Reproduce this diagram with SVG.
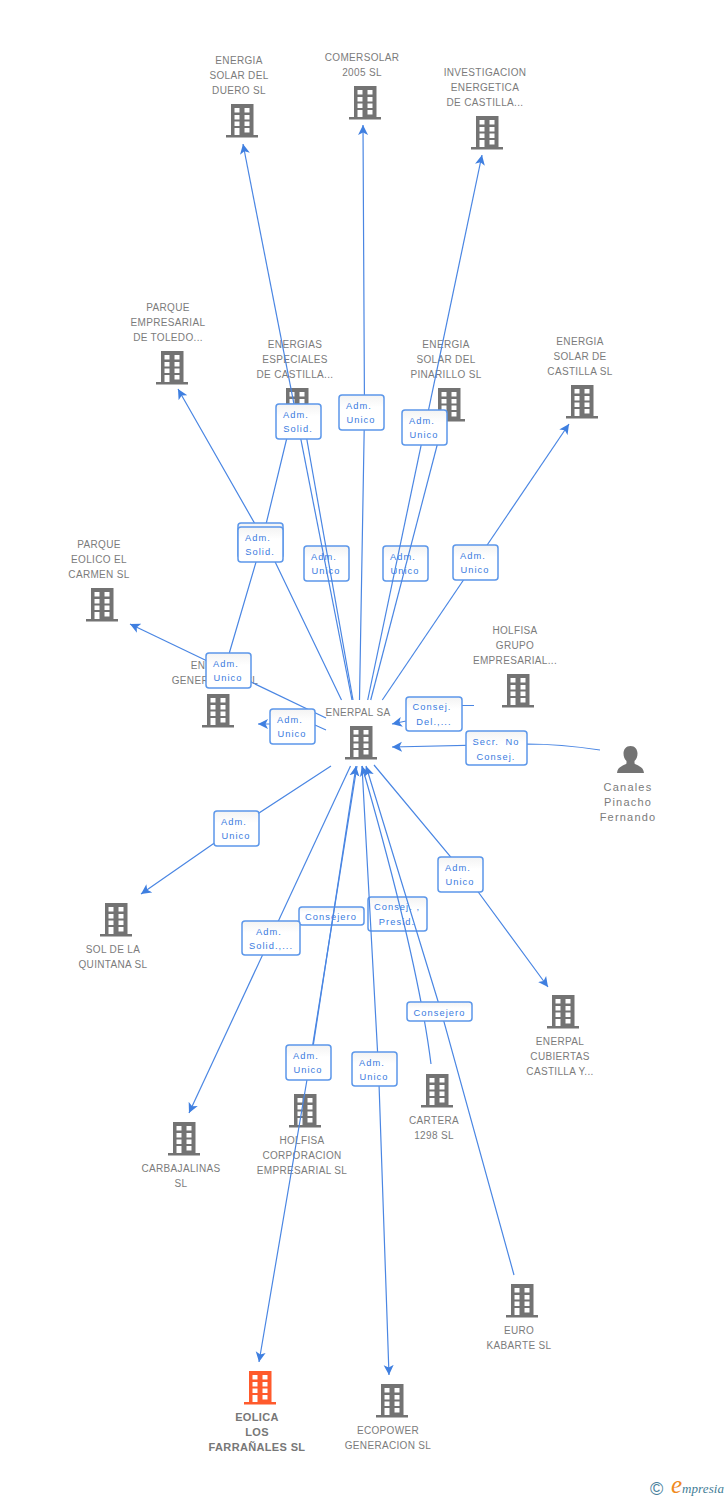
<svg xmlns="http://www.w3.org/2000/svg" width="728" height="1500" viewBox="0 0 728 1500">
<style>
text{font-family:"Liberation Sans",Arial,sans-serif}
.n{font-size:10px;fill:#7b7b7b;text-anchor:middle;letter-spacing:.33px}
.b{font-weight:bold;font-size:11px;fill:#777;letter-spacing:.35px}
.h{font-size:11px;letter-spacing:1.2px}
.i{fill:#737373}
.c path{fill:none;stroke:#4a86e3;stroke-width:1.2;marker-end:url(#a)}
.c path.p{marker-end:none}
.l rect{fill:url(#g);stroke:#5c97ea;stroke-width:1.5}
.l text{font-size:9.300px;fill:#3a7be0;text-anchor:middle;letter-spacing:1.05px}
</style>
<defs>
<linearGradient id="g" x1="0" y1="0" x2="0" y2="1"><stop offset="0" stop-color="#f3f3f3"/><stop offset=".35" stop-color="#fff"/><stop offset="1" stop-color="#fff"/></linearGradient>
<marker id="a" markerUnits="userSpaceOnUse" markerWidth="14" markerHeight="12" refX="10" refY="6" orient="auto"><path d="M0,1 L10,6 L0,11 L2.500,6 Z" fill="#3f7fe0"/></marker>
<symbol id="bld" width="32" height="34" viewBox="0 0 32 34" overflow="visible">
<path fill-rule="evenodd" d="M5,0H27.500V31H32V33.500H0V31H5Z M8.500,4V8.500H13.500V4Z M18.500,4V8.500H23.500V4Z M8.500,11V15.500H13.500V11Z M18.500,11V15.500H23.500V11Z M8.500,17.500V22H13.500V17.500Z M18.500,17.500V22H23.500V17.500Z M8.500,24V31H13.500V24Z M18.500,24V28.500H23.500V24Z"/>
</symbol>
</defs>
<rect width="728" height="1500" fill="#fff"/>

<g id="nodes">
<g id="n-duero"><use href="#bld" x="226" y="104" class="i"/><text class="n"><tspan x="239" y="64">ENERGIA</tspan><tspan x="239" y="79">SOLAR DEL</tspan><tspan x="239" y="94">DUERO SL</tspan></text></g>
<g id="n-comersolar"><use href="#bld" x="349" y="86" class="i"/><text class="n"><tspan x="362" y="61">COMERSOLAR</tspan><tspan x="362" y="76">2005 SL</tspan></text></g>
<g id="n-investigacion"><use href="#bld" x="471" y="116" class="i"/><text class="n"><tspan x="485" y="76">INVESTIGACION</tspan><tspan x="485" y="91">ENERGETICA</tspan><tspan x="485" y="106">DE CASTILLA...</tspan></text></g>
<g id="n-toledo"><use href="#bld" x="156" y="351" class="i"/><text class="n"><tspan x="168" y="311">PARQUE</tspan><tspan x="168" y="326">EMPRESARIAL</tspan><tspan x="168" y="341">DE TOLEDO...</tspan></text></g>
<g id="n-especiales"><use href="#bld" x="281" y="388" class="i"/><text class="n"><tspan x="295" y="348">ENERGIAS</tspan><tspan x="295" y="363">ESPECIALES</tspan><tspan x="295" y="378">DE CASTILLA...</tspan></text></g>
<g id="n-pinarillo"><use href="#bld" x="433" y="388" class="i"/><text class="n"><tspan x="446" y="348">ENERGIA</tspan><tspan x="446" y="363">SOLAR DEL</tspan><tspan x="446" y="378">PINARILLO SL</tspan></text></g>
<g id="n-castilla"><use href="#bld" x="566" y="385" class="i"/><text class="n"><tspan x="580" y="345">ENERGIA</tspan><tspan x="580" y="360">SOLAR DE</tspan><tspan x="580" y="375">CASTILLA SL</tspan></text></g>
<g id="n-carmen"><use href="#bld" x="86" y="588" class="i"/><text class="n"><tspan x="99" y="548">PARQUE</tspan><tspan x="99" y="563">EOLICO EL</tspan><tspan x="99" y="578">CARMEN SL</tspan></text></g>
<g id="n-holfisa-grupo"><use href="#bld" x="502" y="674" class="i"/><text class="n"><tspan x="515" y="634">HOLFISA</tspan><tspan x="515" y="649">GRUPO</tspan><tspan x="515" y="664">EMPRESARIAL...</tspan></text></g>
<g id="n-enerpal-gen"><use href="#bld" x="202" y="694" class="i"/><text class="n"><tspan x="215" y="669">ENERPAL</tspan><tspan x="215" y="684">GENERACION SL</tspan></text></g>
<g id="n-enerpal"><use href="#bld" x="345" y="726" class="i"/><text class="n"><tspan x="358" y="716">ENERPAL SA</tspan></text></g>
<g id="n-canales"><path class="i" d="M630.500,746c-4.500,0-7,3.500-7,7.500c0,3,1,5.500,3,7.500v2.500c-2,2-9,2.500-9.500,9.500h27c-.5-7-7.500-7.500-9.500-9.500V761c2-2,3-4.500,3-7.500c0-4-2.500-7.500-7-7.500Z"/><text class="n h"><tspan x="628" y="791">Canales</tspan><tspan x="628" y="806">Pinacho</tspan><tspan x="628" y="821">Fernando</tspan></text></g>
<g id="n-quintana"><use href="#bld" x="100" y="903" class="i"/><text class="n"><tspan x="113" y="953">SOL DE LA</tspan><tspan x="113" y="968">QUINTANA SL</tspan></text></g>
<g id="n-cubiertas"><use href="#bld" x="547" y="995" class="i"/><text class="n"><tspan x="560" y="1045">ENERPAL</tspan><tspan x="560" y="1060">CUBIERTAS</tspan><tspan x="560" y="1075">CASTILLA Y...</tspan></text></g>
<g id="n-cartera"><use href="#bld" x="421" y="1074" class="i"/><text class="n"><tspan x="434" y="1124">CARTERA</tspan><tspan x="434" y="1139">1298 SL</tspan></text></g>
<g id="n-holfisa-corp"><use href="#bld" x="289" y="1094" class="i"/><text class="n"><tspan x="302" y="1144">HOLFISA</tspan><tspan x="302" y="1159">CORPORACION</tspan><tspan x="302" y="1174">EMPRESARIAL SL</tspan></text></g>
<g id="n-carbajalinas"><use href="#bld" x="168" y="1122" class="i"/><text class="n"><tspan x="181" y="1172">CARBAJALINAS</tspan><tspan x="181" y="1187">SL</tspan></text></g>
<g id="n-kabarte"><use href="#bld" x="506" y="1284" class="i"/><text class="n"><tspan x="519" y="1334">EURO</tspan><tspan x="519" y="1349">KABARTE SL</tspan></text></g>
<g id="n-eolica"><use href="#bld" x="244" y="1371" fill="#ff5a2c"/><text class="n b"><tspan x="257" y="1421">EOLICA</tspan><tspan x="257" y="1436">LOS</tspan><tspan x="257" y="1451">FARRAÑALES SL</tspan></text></g>
<g id="n-ecopower"><use href="#bld" x="376" y="1384" class="i"/><text class="n"><tspan x="388" y="1434">ECOPOWER</tspan><tspan x="388" y="1449">GENERACION SL</tspan></text></g>
</g>

<g class="l" id="labels-under">
<g transform="translate(304,546)"><rect width="45" height="35" rx="3"/><text><tspan x="20" y="14">Adm.</tspan><tspan x="22" y="28">Unico</tspan></text></g>
<g transform="translate(383,546)"><rect width="45" height="35" rx="3"/><text><tspan x="20" y="14">Adm.</tspan><tspan x="22" y="28">Unico</tspan></text></g>
<g transform="translate(299,907)"><rect width="65" height="18" rx="3"/><text><tspan x="32" y="13">Consejero</tspan></text></g>
<g transform="translate(368,897)"><rect width="59" height="34" rx="3"/><text><tspan x="29" y="13">Consej. ,</tspan><tspan x="29" y="28">Presid.</tspan></text></g>
</g>

<g id="connectors" class="c">
<path d="M352,700L243,144"/>
<path class="p" d="M353,700L302,412"/>
<path d="M359.500,700L364.500,412L363,125"/>
<path d="M367.700,700L482,155"/>
<path class="p" d="M370.700,700L445,415"/>
<path d="M382.300,700L569,424"/>
<path d="M341.500,700L267,545L178,389"/>
<path class="p" d="M229.300,653L261,545L290,425"/>
<path d="M326,718L130,624"/>
<path d="M326,730L315,725L270,724L258,724"/>
<path d="M474,705.500L462,705.500L406,721L392,724"/>
<path d="M600,750Q560,744 527,744L392,747"/>
<path d="M331,766L236,828L141,894"/>
<path d="M374,765L465,874L548,987"/>
<path d="M350.500,766L189,1113"/>
<path d="M357,766L310,1062L259,1362"/>
<path d="M311,1060L356,766"/>
<path d="M362,766L378.500,1069L389,1375"/>
<path d="M431,1064Q418,960 362,766"/>
<path d="M514,1275L441,1011L366,766"/>
</g>

<g class="l" id="labels-over">
<g transform="translate(276,404)"><rect width="45" height="35" rx="3"/><text><tspan x="20" y="14">Adm.</tspan><tspan x="22" y="28">Solid.</tspan></text></g>
<g transform="translate(339,395)"><rect width="45" height="35" rx="3"/><text><tspan x="20" y="14">Adm.</tspan><tspan x="22" y="28">Unico</tspan></text></g>
<g transform="translate(402,410)"><rect width="45" height="35" rx="3"/><text><tspan x="20" y="14">Adm.</tspan><tspan x="22" y="28">Unico</tspan></text></g>
<g transform="translate(238,523)"><rect width="45" height="35" rx="3"/></g>
<g transform="translate(238,527)"><rect width="45" height="35" rx="3"/><text><tspan x="20" y="14">Adm.</tspan><tspan x="22" y="28">Solid.</tspan></text></g>
<g transform="translate(453,545)"><rect width="45" height="35" rx="3"/><text><tspan x="20" y="14">Adm.</tspan><tspan x="22" y="28">Unico</tspan></text></g>
<g transform="translate(206,653)"><rect width="45" height="35" rx="3"/><text><tspan x="20" y="14">Adm.</tspan><tspan x="22" y="28">Unico</tspan></text></g>
<g transform="translate(270,709)"><rect width="45" height="35" rx="3"/><text><tspan x="20" y="14">Adm.</tspan><tspan x="22" y="28">Unico</tspan></text></g>
<g transform="translate(406,697)"><rect width="56" height="34" rx="3"/><text><tspan x="26" y="13">Consej.</tspan><tspan x="28" y="28">Del.,...</tspan></text></g>
<g transform="translate(466,731)"><rect width="61" height="34" rx="3"/><text><tspan x="30" y="14" word-spacing="3">Secr. No</tspan><tspan x="30" y="29">Consej.</tspan></text></g>
<g transform="translate(214,811)"><rect width="45" height="35" rx="3"/><text><tspan x="20" y="14">Adm.</tspan><tspan x="22" y="28">Unico</tspan></text></g>
<g transform="translate(438,857)"><rect width="45" height="35" rx="3"/><text><tspan x="20" y="14">Adm.</tspan><tspan x="22" y="28">Unico</tspan></text></g>
<g transform="translate(242,921)"><rect width="58" height="34" rx="3"/><text><tspan x="27" y="14">Adm.</tspan><tspan x="29" y="28">Solid.,...</tspan></text></g>
<g transform="translate(407,1002)"><rect width="65" height="19" rx="3"/><text><tspan x="32.500" y="13.500">Consejero</tspan></text></g>
<g transform="translate(286,1045)"><rect width="45" height="35" rx="3"/><text><tspan x="20" y="14">Adm.</tspan><tspan x="22" y="28">Unico</tspan></text></g>
<g transform="translate(352,1052)"><rect width="45" height="34" rx="3"/><text><tspan x="20" y="14">Adm.</tspan><tspan x="22" y="28">Unico</tspan></text></g>
</g>

<g id="logo">
<text x="650" y="1495" font-size="18" fill="#4a7f9c">©</text>
<text x="671" y="1493" font-size="25" font-style="italic" fill="#f08a1d" style="font-family:'Liberation Serif',serif">e</text>
<text x="682" y="1493" font-size="13" font-style="italic" fill="#3f7d96" style="font-family:'Liberation Serif',serif;letter-spacing:.1px">mpresia</text>
</g>
</svg>
